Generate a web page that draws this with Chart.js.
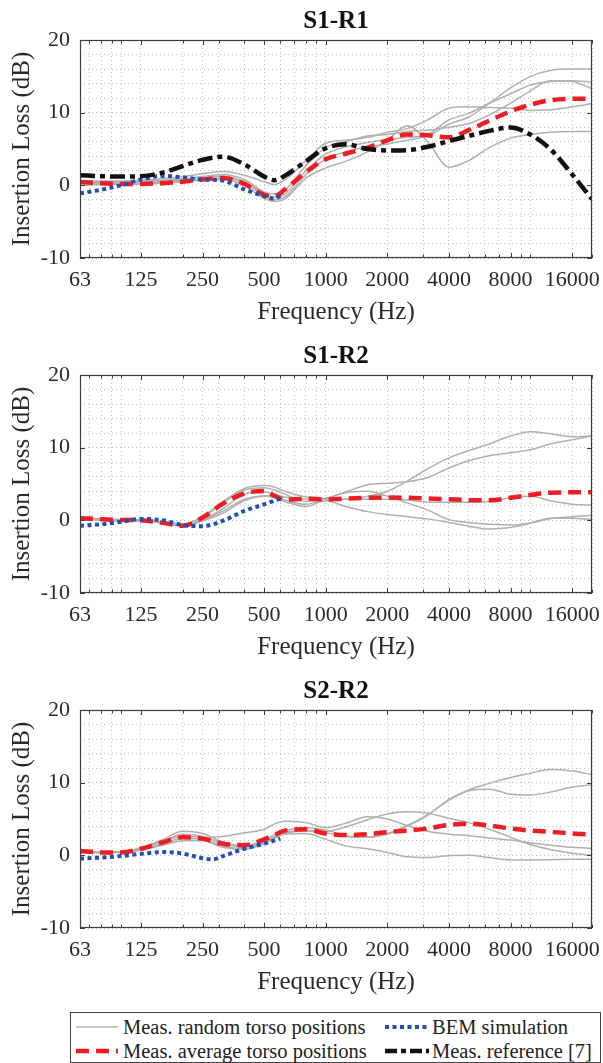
<!DOCTYPE html>
<html><head><meta charset="utf-8">
<script src="https://cdn.jsdelivr.net/npm/chart.js@4.4.1/dist/chart.umd.min.js"></script>
<style>
html,body{margin:0;padding:0;background:#fff;}
body{width:603px;height:1063px;position:relative;overflow:hidden;font-family:"Liberation Serif","Times New Roman",serif;}
canvas{position:absolute;left:0;}
#legend{position:absolute;left:70px;top:1012px;width:531px;height:51px;border:1px solid #444;box-sizing:border-box;background:#fff;}
.item{position:absolute;font-size:20.5px;color:#222;white-space:nowrap;line-height:24px;}
.sw{position:absolute;}
</style></head><body>
<canvas id="c1" width="603" height="335" style="top:0"></canvas>
<canvas id="c2" width="603" height="335" style="top:335px"></canvas>
<canvas id="c3" width="603" height="335" style="top:670px"></canvas>
<div id="legend">
  <svg class="sw" style="left:5px;top:10px" width="42" height="8"><line x1="0" y1="4" x2="42" y2="4" stroke="#b3b3b3" stroke-width="1.5"/></svg>
  <div class="item" style="left:52px;top:2px">Meas. random torso positions</div>
  <svg class="sw" style="left:314px;top:10px" width="44" height="8"><line x1="0" y1="4" x2="44" y2="4" stroke="#2050b0" stroke-width="4" stroke-dasharray="4 3.5"/></svg>
  <div class="item" style="left:361px;top:2px">BEM simulation</div>
  <svg class="sw" style="left:5px;top:34px" width="42" height="8"><line x1="0" y1="4" x2="42" y2="4" stroke="#ee1d23" stroke-width="4.5" stroke-dasharray="13 7"/></svg>
  <div class="item" style="left:52px;top:26px">Meas. average torso positions</div>
  <svg class="sw" style="left:314px;top:34px" width="44" height="8"><line x1="0" y1="4" x2="44" y2="4" stroke="#111" stroke-width="4.5" stroke-dasharray="12 4 5 4"/></svg>
  <div class="item" style="left:361px;top:26px">Meas. reference [7]</div>
</div>
<script>
// ---------------- data ----------------
const freqs = [63,80,100,125,160,200,250,315,400,500,560,630,800,1000,1250,1600,2000,2500,3150,4000,5000,6300,8000,10000,12500,16000,20000];

// S1-R1
const s1Random1 = [0.4,0.4,0.4,0.4,0.5,0.6,0.9,1.0,0.3,-1.4,-2.0,-1.6,1.5,3.6,4.6,5.3,5.7,6.2,6.8,8.4,9.4,11.3,13.4,15.0,15.8,16.0,16.0];
const s1Random2 = [0.3,0.3,0.3,0.4,0.5,0.7,1.0,1.3,0.5,-1.1,-1.6,-1.2,2.0,4.3,5.3,5.9,6.3,6.6,7.0,9.0,9.9,11.3,12.6,13.8,14.3,14.4,14.2];
const s1Random3 = [0.5,0.5,0.5,0.6,0.7,0.9,1.2,1.5,0.8,-0.9,-1.2,-0.7,2.7,5.2,6.0,6.8,7.0,7.4,7.6,8.0,8.5,9.7,11.3,13.0,14.4,14.3,13.3];
const s1Random4 = [0.6,0.6,0.6,0.7,0.9,1.2,1.6,1.9,1.4,0.5,0.1,0.7,3.4,5.8,6.2,6.6,7.3,7.8,9.0,10.6,10.8,10.7,10.6,10.3,10.4,10.8,11.25];
const s1Random5 = [0.0,0.1,0.1,0.2,0.3,0.5,0.7,0.8,0.0,-1.8,-2.2,-1.9,1.0,2.4,3.3,4.6,6.2,8.2,6.0,2.5,3.4,5.2,6.5,7.0,7.3,7.4,7.4];
const s1Average = [0.45,0.3,0.2,0.2,0.3,0.5,0.8,1.0,0.2,-1.3,-1.5,-0.6,1.8,3.6,4.35,5.2,6.2,7.0,6.9,6.6,7.6,8.9,10.2,11.1,11.7,11.9,11.9];
const s1Reference = [1.4,1.25,1.2,1.25,1.75,2.65,3.5,3.95,2.9,1.2,0.7,1.3,3.3,5.1,5.65,5.0,4.8,4.85,5.3,6.1,6.8,7.5,7.95,7.0,5.0,1.5,-1.9];
const s1BemFreqs = [63,80,100,125,160,200,250,315,400,500,560,600];
const s1Bem = [-1.1,-0.6,0.0,0.8,1.3,1.1,0.8,0.65,-0.55,-1.5,-1.85,-1.4];

// S1-R2
const s2Random1 = [0.2,0.1,0.0,0.0,-0.3,-0.6,0.5,2.6,4.4,4.8,4.6,4.0,3.2,2.9,2.9,3.3,4.0,5.4,7.1,8.6,9.6,10.5,11.6,12.2,11.9,11.5,11.6];
const s2Random2 = [0.3,0.2,0.1,0.1,-0.2,-0.5,0.4,2.4,4.2,4.5,4.2,3.6,2.6,3.0,3.9,4.9,5.1,5.3,5.9,7.2,8.2,8.9,9.3,9.7,10.5,11.1,11.6];
const s2Random3 = [0.2,0.1,0.0,0.0,-0.3,-0.7,0.1,1.6,3.6,3.9,3.6,3.2,2.9,2.8,2.9,2.9,2.9,2.8,2.5,2.5,2.5,2.6,3.1,3.3,2.7,2.2,2.1];
const s2Random4 = [0.2,0.1,0.0,-0.1,-0.3,-0.7,0.0,1.3,2.9,3.4,3.2,2.8,2.2,3.0,3.8,4.0,3.3,2.4,1.4,0.1,-0.3,-0.55,-0.65,-0.35,0.2,0.5,0.7];
const s2Random5 = [0.1,0.0,-0.1,-0.1,-0.4,-0.8,-0.1,1.0,2.7,3.3,3.1,2.6,1.9,2.7,1.9,1.2,0.8,0.5,0.2,-0.3,-0.8,-1.2,-1.0,-0.4,0.3,0.3,0.1];
const s2Average = [0.3,0.15,0.05,0.0,-0.35,-0.75,0.4,2.3,3.7,4.05,3.4,2.8,3.0,2.85,3.0,3.1,3.15,3.1,3.0,2.9,2.8,2.75,3.1,3.5,3.8,3.85,3.85];
const s2BemFreqs = [63,80,100,125,160,200,250,315,400,500,600];
const s2Bem = [-0.75,-0.55,-0.2,0.2,0.0,-0.65,-0.8,-0.05,1.3,2.2,3.0];

// S2-R2
const s3Random1 = [0.4,0.4,0.5,0.9,1.9,2.9,2.6,1.6,1.1,1.9,2.5,3.0,3.4,3.1,2.6,2.5,3.0,4.1,5.6,7.6,9.0,9.9,10.7,11.3,11.8,11.6,11.1];
const s3Random2 = [0.5,0.4,0.5,1.0,2.2,3.3,3.0,1.8,1.3,2.1,2.8,3.4,3.8,3.5,2.7,2.5,2.9,4.0,5.5,7.7,8.9,9.1,8.4,8.3,8.7,9.4,9.7];
const s3Random3 = [0.4,0.4,0.4,0.8,1.6,2.3,2.2,1.3,0.9,1.8,2.5,3.2,3.4,3.3,3.9,4.9,5.7,6.0,5.8,5.1,4.5,3.6,2.5,1.5,0.8,0.3,0.0];
const s3Random4 = [0.5,0.5,0.5,1.0,2.0,2.6,2.5,2.6,3.1,3.6,4.3,4.7,4.5,3.8,4.4,5.3,5.0,4.1,3.3,2.9,2.7,2.4,2.1,1.7,1.4,1.1,0.95];
const s3Random5 = [0.4,0.4,0.4,0.7,1.4,2.0,2.0,1.1,0.8,1.6,2.3,2.9,3.0,2.2,1.3,0.9,0.4,-0.2,-0.3,-0.05,0.0,-0.3,-0.65,-0.65,-0.6,-0.55,-0.55];
const s3Average = [0.6,0.4,0.4,0.9,1.8,2.5,2.3,1.6,1.4,2.2,2.8,3.4,3.6,3.0,2.8,2.9,3.2,3.4,3.7,4.2,4.35,4.1,3.7,3.4,3.25,3.0,2.85];
const s3BemFreqs = [63,80,100,125,160,200,250,280,315,400,500,600];
const s3Bem = [-0.45,-0.3,-0.1,0.2,0.45,0.25,-0.4,-0.55,-0.1,0.9,1.6,2.3];

// axis ticks
const xTickValues = [63,125,250,500,1000,2000,4000,8000,16000];
const xMinorValues = [70,80,90,100,200,300,400,600,700,800,900,3000,5000,6000,7000,9000,10000,20000];
const yMajorValues = [-10,0,10,20];
const panelTitles = ['S1-R1','S1-R2','S2-R2'];

// ---------------- chart ----------------
const FONT = '"Liberation Serif","Times New Roman",serif';
Chart.defaults.font.family = FONT;
const xGrid = Array.from(new Set(xTickValues.concat(xMinorValues))).sort((a,b)=>a-b);

const boxPlugin = {
  id: 'matlabBox',
  afterDraw(chart) {
    const {ctx, chartArea: a, scales: {x, y}} = chart;
    ctx.save();
    ctx.setLineDash([]);
    ctx.strokeStyle = '#3c3c3c';
    ctx.lineWidth = 1;
    ctx.beginPath();
    xGrid.forEach(v => {
      const px = Math.round(x.getPixelForValue(v)) + 0.5;
      const len = xTickValues.includes(v) ? 5 : 3.5;
      ctx.moveTo(px, a.bottom); ctx.lineTo(px, a.bottom - len);
      ctx.moveTo(px, a.top); ctx.lineTo(px, a.top + len);
    });
    yMajorValues.forEach(v => {
      const py = Math.round(y.getPixelForValue(v)) + 0.5;
      ctx.moveTo(a.left, py); ctx.lineTo(a.left + 5, py);
      ctx.moveTo(a.right, py); ctx.lineTo(a.right - 5, py);
    });
    ctx.stroke();
    ctx.lineWidth = 1.2;
    ctx.strokeRect(Math.round(a.left) + 0.5, Math.round(a.top) + 0.5, Math.round(a.right - a.left) - 1, Math.round(a.bottom - a.top) - 1);
    ctx.restore();
  }
};

function pts(fs, vs) { return fs.map((f, i) => ({x: f, y: vs[i]})); }
function gray(vs) { return {data: pts(freqs, vs), borderColor: '#b0b0b0', borderWidth: 1.5, order: 4}; }
function avg(vs) { return {data: pts(freqs, vs), borderColor: '#ee1d23', borderWidth: 4.5, borderDash: [13, 7], order: 3}; }
function bem(fs, vs) { return {data: pts(fs, vs), borderColor: '#2050b0', borderWidth: 4, borderDash: [4, 3.5], order: 2}; }
function ref(vs) { return {data: pts(freqs, vs), borderColor: '#111111', borderWidth: 4.5, borderDash: [15, 5, 5, 5], order: 1}; }

const gridOpts = {color: '#bdbdbd', lineWidth: 1, drawTicks: false};
const isYMajor = v => yMajorValues.some(m => Math.abs(m - v) < 1e-6);

function makeChart(id, title, datasets) {
  return new Chart(document.getElementById(id), {
    type: 'line',
    data: {datasets},
    options: {
      responsive: false, animation: false, devicePixelRatio: 1,
      layout: {padding: {left: 0, right: 11, top: 0, bottom: 0}},
      elements: {point: {radius: 0}, line: {cubicInterpolationMode: 'monotone', fill: false}},
      plugins: {
        legend: {display: false}, tooltip: {enabled: false},
        title: {display: true, text: title, fullSize: false, color: '#111',
                font: {family: FONT, size: 25, weight: 'bold'}, padding: {top: 7, bottom: 3}}
      },
      scales: {
        x: {
          type: 'logarithmic', min: 63, max: 20000,
          afterBuildTicks: s => { s.ticks = xGrid.map(v => ({value: v})); },
          afterFit: s => { s.height = 77; },
          ticks: {autoSkip: false, maxRotation: 0, minRotation: 0, padding: 9, color: '#2a2a2a',
                  font: {family: FONT, size: 22},
                  callback: v => xTickValues.includes(v) ? String(v) : ''},
          grid: gridOpts,
          border: {display: false, dash: [1, 3]},
          title: {display: true, text: 'Frequency (Hz)', color: '#2a2a2a',
                  font: {family: FONT, size: 25}, padding: {top: 0, bottom: 8}}
        },
        y: {
          min: -10, max: 20,
          afterBuildTicks: s => {
            const t = [];
            for (let v = -10; v <= 20; v += 2) t.push({value: v});
            s.ticks = t;
          },
          afterFit: s => { s.width = 80; },
          ticks: {autoSkip: false, padding: 10, color: '#2a2a2a', font: {family: FONT, size: 22},
                  callback: v => isYMajor(v) ? String(Math.round(v)) : ''},
          grid: gridOpts,
          border: {display: false, dash: [1, 3]},
          title: {display: true, text: 'Insertion Loss (dB)', color: '#2a2a2a',
                  font: {family: FONT, size: 25}, padding: {top: 7, bottom: 0}}
        }
      }
    },
    plugins: [boxPlugin]
  });
}

makeChart('c1', panelTitles[0], [
  gray(s1Random1), gray(s1Random2), gray(s1Random3), gray(s1Random4), gray(s1Random5),
  avg(s1Average), bem(s1BemFreqs, s1Bem), ref(s1Reference)
]);
makeChart('c2', panelTitles[1], [
  gray(s2Random1), gray(s2Random2), gray(s2Random3), gray(s2Random4), gray(s2Random5),
  avg(s2Average), bem(s2BemFreqs, s2Bem)
]);
makeChart('c3', panelTitles[2], [
  gray(s3Random1), gray(s3Random2), gray(s3Random3), gray(s3Random4), gray(s3Random5),
  avg(s3Average), bem(s3BemFreqs, s3Bem)
]);
</script>
</body></html>
